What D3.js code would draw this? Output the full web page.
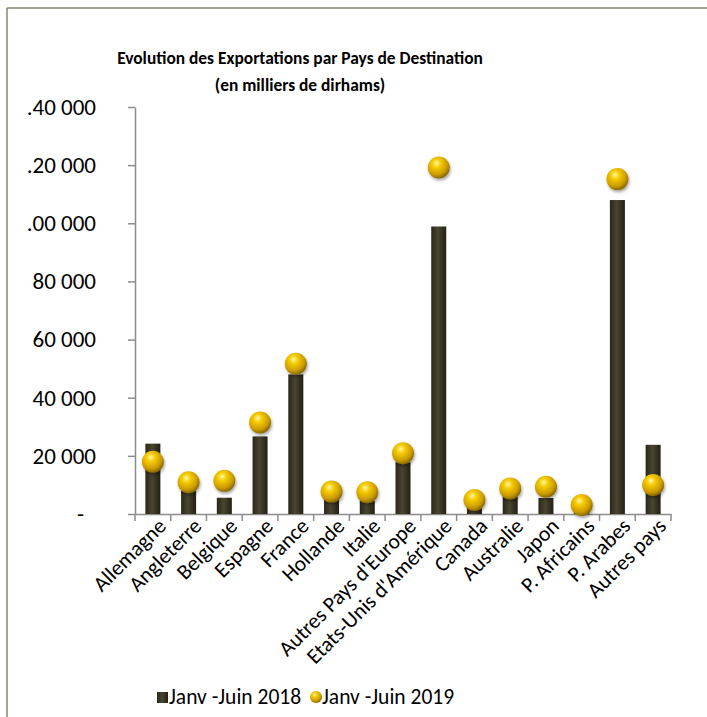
<!DOCTYPE html>
<html><head><meta charset="utf-8">
<script src="https://cdn.jsdelivr.net/npm/d3@7"></script>
<style>body{margin:0;background:#fff} text{font-family:Carlito, Lato, "Open Sans", sans-serif;}</style>
</head><body><svg id="c" width="707" height="717"></svg>
<script>
const categories = ["Allemagne","Angleterre","Belgique","Espagne","France","Hollande","Italie","Autres Pays d'Europe","Etats-Unis d'Amérique","Canada","Australie","Japon","P. Africains","P. Arabes","Autres pays"];
const values2018 = [24200, 8000, 5600, 26700, 48000, 5000, 4500, 17800, 98900, 3000, 6000, 5500, 1000, 108000, 23800];
const values2019 = [18000, 10900, 11400, 31500, 51700, 7700, 7500, 20900, 119200, 4800, 8800, 9400, 3100, 115200, 10000];
const tickValues = [0, 20000, 40000, 60000, 80000, 100000, 120000, 140000];
const tickLabels = ["-", "20 000", "40 000", "60 000", "80 000", ".00 000", ".20 000", ".40 000"];
const seriesNames = ["Janv -Juin 2018", "Janv -Juin 2019"];
const titleLines = ["Evolution des Exportations par Pays de Destination", "(en milliers de dirhams)"];

const svg = d3.select("#c");
const defs = svg.append("defs");
const gBall = defs.append("radialGradient").attr("id","ball").attr("cx","0.4").attr("cy","0.35").attr("r","0.65").attr("fx","0.4").attr("fy","0.3");
gBall.append("stop").attr("offset","0").attr("stop-color","#fff7a8");
gBall.append("stop").attr("offset","0.3").attr("stop-color","#f5cc00");
gBall.append("stop").attr("offset","0.75").attr("stop-color","#cc9c00");
gBall.append("stop").attr("offset","1").attr("stop-color","#8a6a00");
const gBar = defs.append("linearGradient").attr("id","bar").attr("x1","0").attr("x2","1").attr("y1","0").attr("y2","0");
gBar.append("stop").attr("offset","0").attr("stop-color","#2a2718");
gBar.append("stop").attr("offset","0.45").attr("stop-color","#4a4530");
gBar.append("stop").attr("offset","1").attr("stop-color","#232013");
const sh = defs.append("filter").attr("id","sh").attr("x","-50%").attr("y","-50%").attr("width","200%").attr("height","200%");
sh.append("feDropShadow").attr("dx",1).attr("dy",2).attr("stdDeviation",1.5).attr("flood-color","#000").attr("flood-opacity",0.35);

// frame
svg.append("line").attr("x1",7).attr("x2",707).attr("y1",8).attr("y2",8).attr("stroke","#8a8672").attr("stroke-width",1.5);
svg.append("line").attr("x1",7).attr("x2",7).attr("y1",8).attr("y2",717).attr("stroke","#8a8672").attr("stroke-width",1.5);

// title
svg.append("text").attr("x",300).attr("y",0).attr("text-anchor","middle").attr("font-weight","bold").attr("font-size",17.4)
  .selectAll("tspan").data(titleLines).join("tspan").attr("x",300).attr("y",(d,i)=>64+i*27).text(d=>d);

const pLeft = 135, pRight = 671, pTop = 107, pBottom = 514;
const x = d3.scaleBand().domain(categories).range([pLeft, pRight]).padding(0);
const y = d3.scaleLinear().domain([0, 140000]).range([pBottom, pTop]);

// y axis
const ya = svg.append("g").attr("transform",`translate(${pLeft},0)`)
  .call(d3.axisLeft(y).tickValues(tickValues).tickFormat((d,i)=>tickLabels[i]).tickSize(7).tickPadding(32).tickSizeOuter(0));
ya.selectAll("line,path").attr("stroke","#8c8c8c").attr("stroke-width",1.5);
ya.selectAll("text").attr("font-size",23).attr("fill","#000").attr("font-family","Carlito, Lato, sans-serif");
ya.selectAll(".tick").filter(d=>d===0).select("text").attr("dx",-12);

// x axis
const xa = svg.append("g").attr("transform",`translate(0,${pBottom})`)
  .call(d3.axisBottom(x).tickSize(0).tickPadding(0).tickSizeOuter(0));
xa.select("path").attr("stroke","#8c8c8c").attr("stroke-width",1.5);
xa.selectAll(".tick text").attr("font-size",21.5).attr("fill","#000").attr("text-anchor","end").attr("font-family","Carlito, Lato, sans-serif")
  .attr("transform","translate(9,8) rotate(-45)").attr("dy","0.35em").attr("y",0);
const bounds = categories.map(c=>x(c)).concat([x.range()[1]]);
svg.append("g").selectAll("line").data(bounds).join("line")
  .attr("x1",d=>d).attr("x2",d=>d).attr("y1",pBottom).attr("y2",pBottom+7).attr("stroke","#8c8c8c").attr("stroke-width",1.5);

// bars
const bw = x.bandwidth()*0.42;
svg.append("g").selectAll("rect").data(values2018).join("rect")
  .attr("x",(d,i)=>x(categories[i])+x.bandwidth()/2-bw/2).attr("width",bw)
  .attr("y",d=>y(d)).attr("height",d=>pBottom-y(d)).attr("fill","url(#bar)");

// balls
svg.append("g").selectAll("circle").data(values2019).join("circle")
  .attr("cx",(d,i)=>x(categories[i])+x.bandwidth()/2).attr("cy",d=>y(d)).attr("r",11)
  .attr("fill","url(#ball)").attr("filter","url(#sh)");

// legend
const lg = svg.append("g");
lg.append("rect").attr("x",157).attr("y",692).attr("width",11).attr("height",11).attr("fill","url(#bar)");
lg.append("text").attr("x",169).attr("y",704).attr("font-size",21.5).text(seriesNames[0]);
lg.append("circle").attr("cx",316).attr("cy",697).attr("r",6).attr("fill","url(#ball)");
lg.append("text").attr("x",322).attr("y",704).attr("font-size",21.5).text(seriesNames[1]);
</script></body></html>
